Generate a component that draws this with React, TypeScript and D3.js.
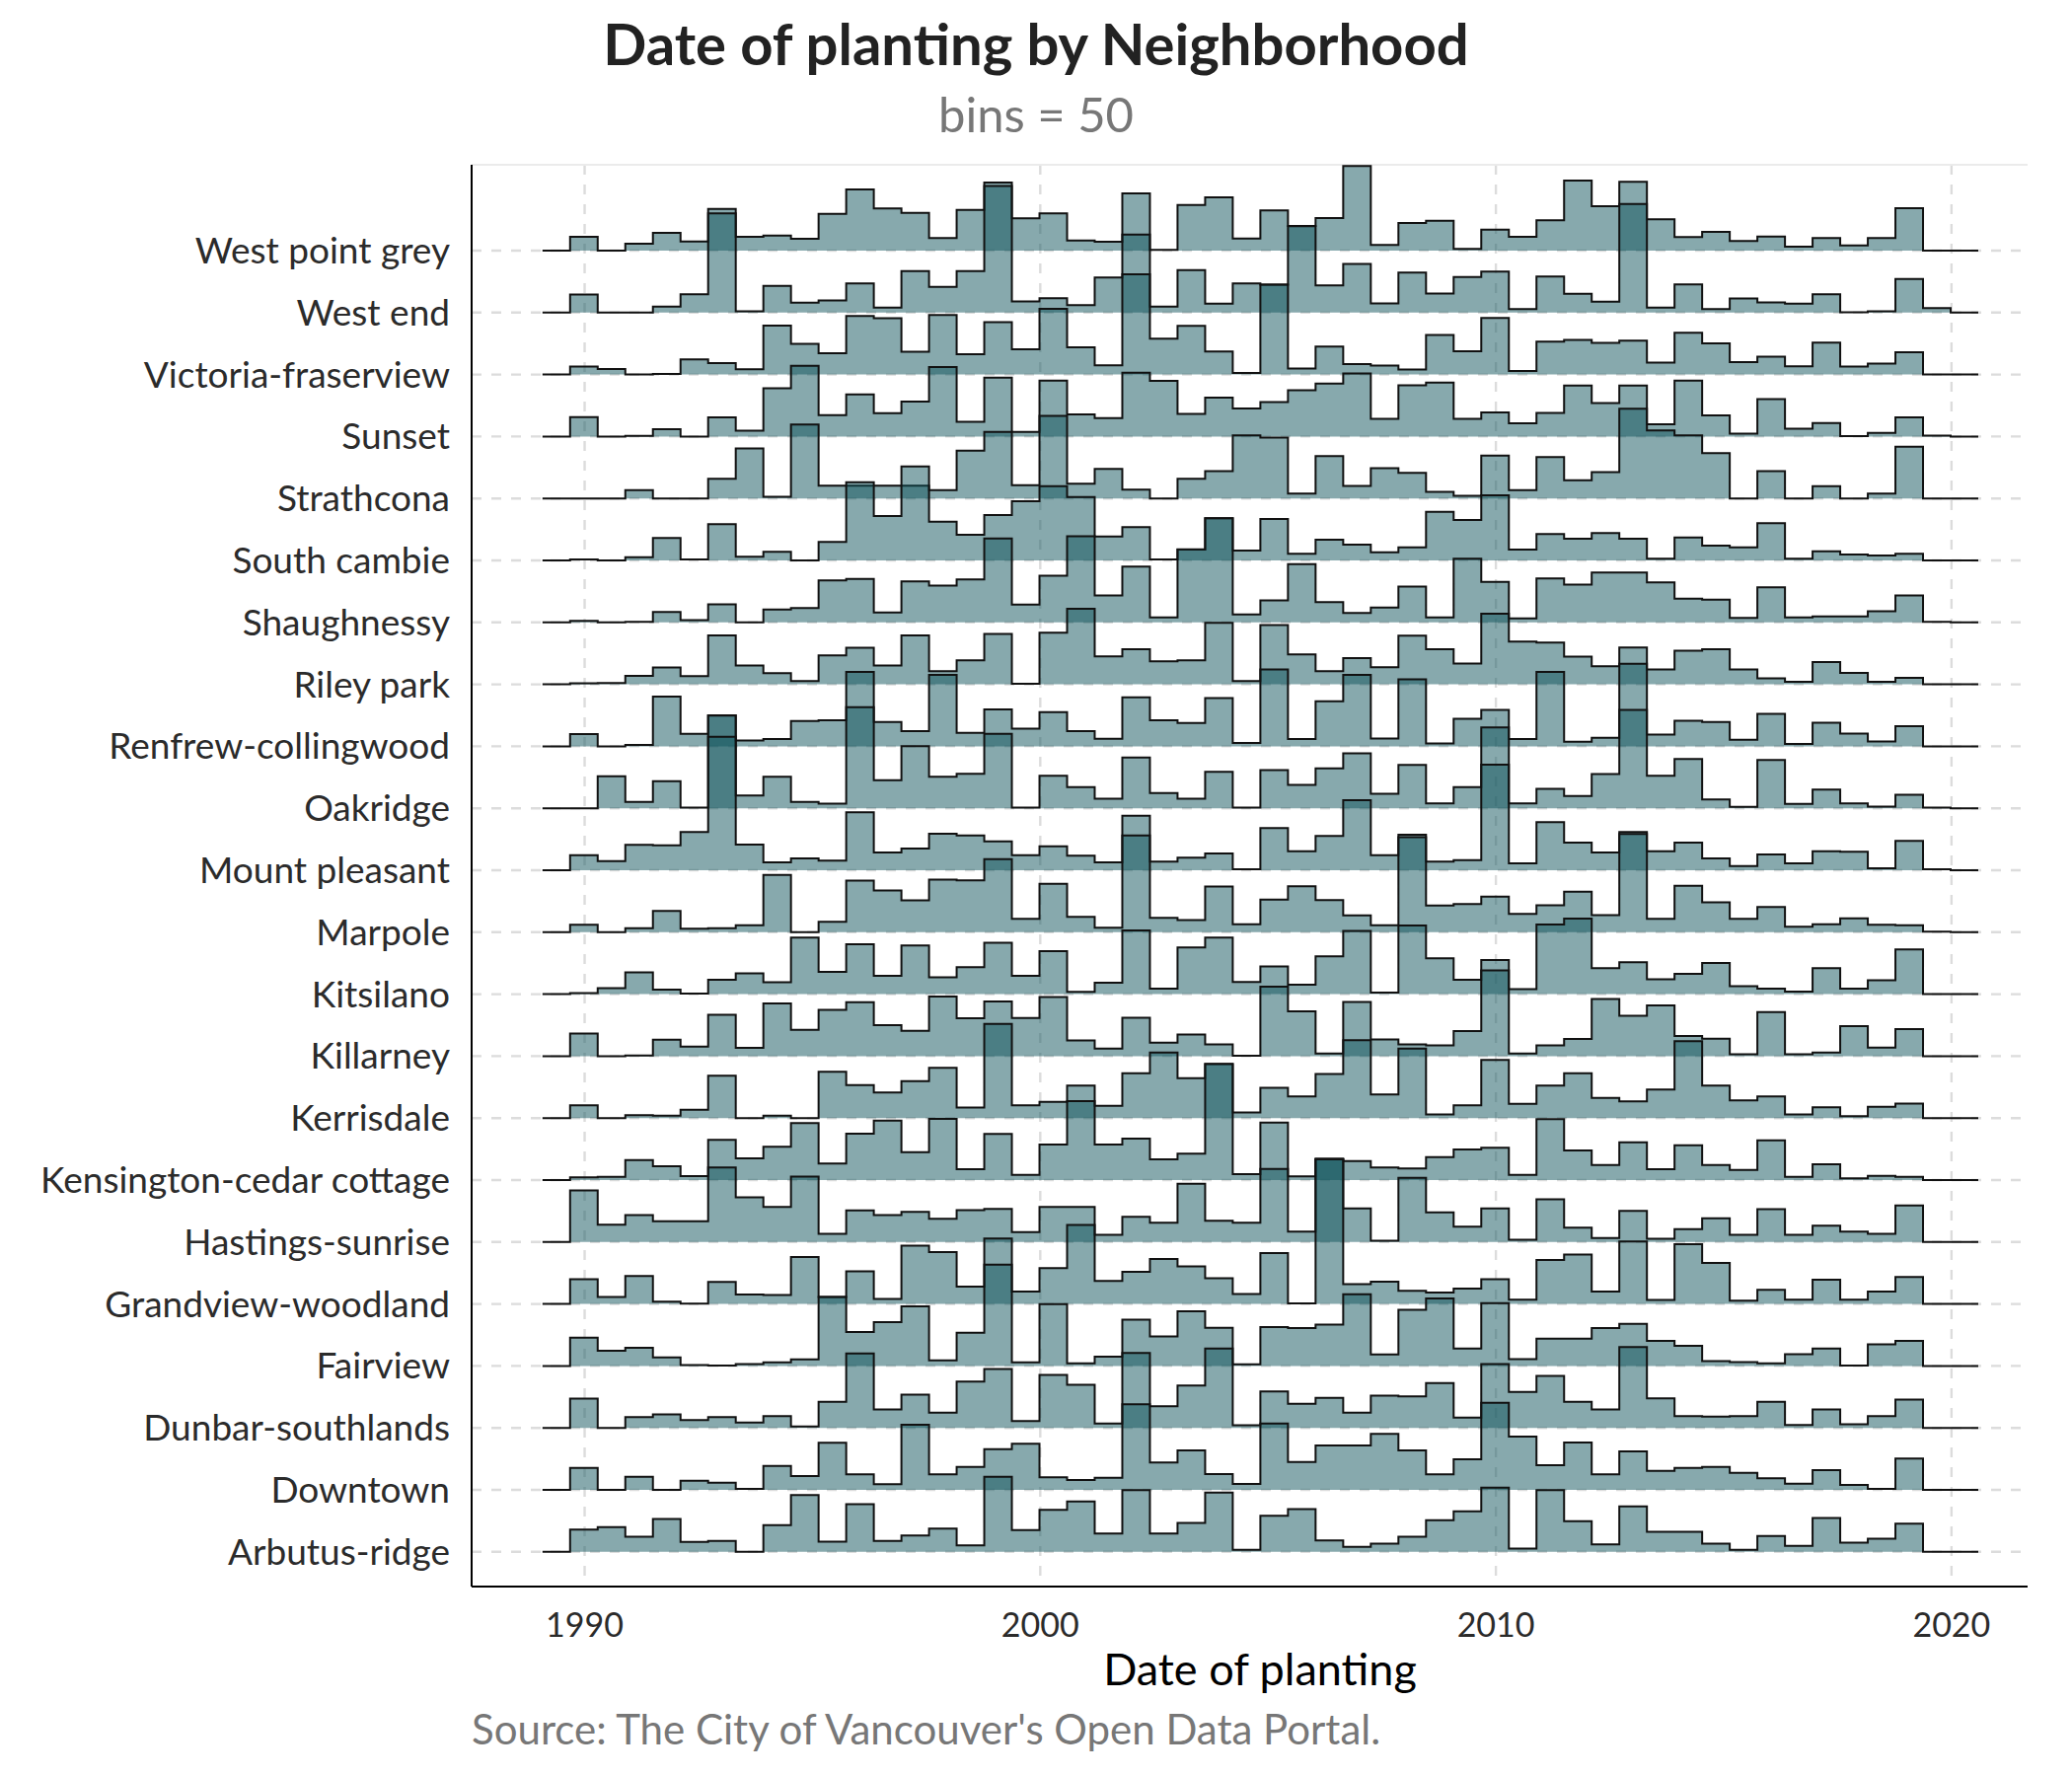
import React, { useEffect, useRef } from 'react';
import * as d3 from 'd3';

// neighbourhoods, top row first
const neighborhoods = [
  'West point grey', 'West end', 'Victoria-fraserview', 'Sunset', 'Strathcona',
  'South cambie', 'Shaughnessy', 'Riley park', 'Renfrew-collingwood', 'Oakridge',
  'Mount pleasant', 'Marpole', 'Kitsilano', 'Killarney', 'Kerrisdale',
  'Kensington-cedar cottage', 'Hastings-sunrise', 'Grandview-woodland', 'Fairview',
  'Dunbar-southlands', 'Downtown', 'Arbutus-ridge',
];

// 50 bins (plus one empty pad bin on each side, as ggridges draws them)
const binStart = 1989.075;
const binWidth = 0.606;
const xTicks = [1990, 2000, 2010, 2020];

// counts per bin
const westPointGrey = [42, 0, 21, 54, 28, 127, 42, 46, 36, 112, 186, 128, 115, 38, 124, 207, 98, 113, 31, 27, 174, 2, 139, 162, 37, 122, 75, 99, 257, 17, 84, 91, 5, 64, 42, 92, 213, 135, 209, 95, 41, 57, 29, 43, 12, 38, 16, 38, 129, 0];
const westEnd = [55, 0, 0, 18, 56, 302, 4, 81, 30, 37, 89, 15, 126, 78, 126, 385, 34, 44, 23, 107, 237, 18, 129, 27, 89, 85, 263, 83, 148, 28, 122, 58, 108, 125, 11, 110, 57, 33, 330, 15, 86, 11, 43, 31, 27, 56, 1, 4, 102, 14];
const victoriaFraserview = [24, 17, 0, 2, 46, 35, 16, 149, 93, 65, 178, 171, 69, 181, 62, 159, 77, 200, 83, 28, 305, 109, 148, 70, 5, 273, 18, 85, 32, 27, 15, 120, 71, 172, 11, 100, 105, 96, 103, 36, 127, 95, 38, 54, 25, 97, 24, 33, 68, 0];
const sunset = [59, 0, 2, 22, 0, 58, 18, 147, 215, 65, 128, 71, 106, 211, 45, 179, 14, 170, 67, 56, 194, 169, 69, 118, 85, 105, 141, 161, 192, 54, 156, 164, 54, 73, 40, 72, 155, 102, 155, 37, 170, 64, 9, 114, 24, 41, 1, 11, 58, 3];
const strathcona = [0, 0, 25, 0, 0, 60, 152, 5, 225, 39, 39, 39, 39, 25, 145, 202, 40, 251, 45, 90, 27, 0, 60, 83, 192, 185, 15, 129, 38, 92, 78, 20, 8, 130, 25, 126, 55, 80, 273, 207, 192, 138, 0, 83, 0, 37, 0, 15, 157, 0];
const southCambie = [3, 0, 10, 68, 3, 110, 11, 26, 0, 56, 238, 135, 286, 118, 78, 138, 180, 226, 193, 73, 101, 3, 33, 128, 30, 126, 20, 63, 48, 25, 40, 148, 123, 198, 33, 80, 66, 83, 66, 5, 70, 45, 40, 113, 5, 28, 18, 15, 20, 0];
const shaughnessy = [5, 0, 2, 32, 7, 55, 0, 39, 44, 128, 132, 30, 125, 112, 131, 255, 54, 142, 262, 82, 170, 15, 222, 317, 24, 67, 177, 62, 29, 45, 109, 15, 194, 123, 12, 134, 115, 152, 152, 122, 72, 69, 14, 107, 15, 18, 18, 34, 82, 2];
const rileyPark = [3, 4, 26, 51, 25, 149, 57, 34, 10, 88, 111, 57, 149, 40, 73, 153, 2, 157, 230, 85, 107, 70, 73, 187, 10, 180, 91, 40, 80, 52, 148, 107, 63, 215, 130, 127, 84, 55, 112, 45, 102, 107, 45, 18, 8, 68, 35, 8, 20, 0];
const renfrew = [37, 0, 4, 151, 38, 94, 18, 22, 77, 79, 226, 74, 46, 217, 41, 112, 54, 104, 46, 23, 149, 79, 71, 147, 10, 234, 22, 137, 217, 24, 204, 9, 84, 111, 22, 226, 14, 26, 251, 36, 78, 74, 20, 99, 7, 72, 39, 15, 61, 0];
const oakridge = [0, 97, 19, 82, 2, 282, 39, 96, 19, 14, 307, 85, 189, 96, 105, 226, 2, 99, 64, 29, 154, 46, 29, 111, 2, 116, 71, 121, 167, 44, 132, 15, 64, 246, 15, 59, 37, 104, 299, 99, 150, 27, 4, 147, 13, 57, 15, 5, 41, 2];
const mountPleasant = [46, 28, 77, 76, 116, 406, 78, 24, 36, 29, 176, 54, 66, 111, 106, 88, 46, 73, 44, 24, 166, 26, 38, 51, 3, 128, 58, 104, 213, 46, 108, 26, 31, 321, 21, 146, 84, 54, 116, 58, 84, 36, 13, 48, 21, 58, 56, 6, 89, 3];
const marpole = [23, 0, 12, 65, 11, 12, 21, 174, 0, 32, 157, 127, 97, 160, 158, 222, 41, 147, 47, 14, 294, 44, 37, 139, 24, 99, 140, 98, 51, 21, 289, 81, 86, 108, 56, 82, 123, 52, 299, 41, 141, 91, 41, 77, 17, 24, 42, 23, 21, 2];
const kitsilano = [3, 18, 66, 14, 2, 44, 63, 36, 172, 68, 152, 56, 148, 51, 82, 156, 56, 131, 7, 35, 194, 17, 142, 172, 37, 84, 29, 115, 192, 5, 209, 109, 44, 104, 15, 212, 230, 79, 97, 45, 62, 95, 24, 17, 8, 79, 17, 42, 136, 0];
const killarney = [69, 0, 2, 50, 29, 126, 25, 160, 80, 141, 164, 94, 77, 181, 115, 166, 116, 180, 48, 23, 117, 41, 66, 36, 1, 211, 136, 8, 165, 51, 36, 33, 76, 261, 8, 33, 52, 174, 123, 154, 61, 53, 6, 134, 6, 11, 91, 26, 82, 0];
const kerrisdale = [39, 0, 9, 7, 25, 129, 0, 7, 0, 141, 100, 78, 112, 153, 32, 286, 39, 49, 99, 37, 136, 199, 121, 164, 17, 92, 66, 134, 237, 72, 211, 11, 39, 177, 43, 99, 136, 61, 51, 87, 234, 99, 54, 66, 11, 33, 6, 34, 44, 0];
const kensington = [8, 10, 61, 42, 12, 122, 66, 101, 173, 50, 141, 181, 85, 186, 33, 140, 16, 108, 240, 108, 126, 63, 80, 353, 18, 175, 11, 63, 58, 38, 35, 70, 93, 98, 16, 185, 90, 46, 115, 33, 106, 46, 31, 121, 10, 48, 5, 13, 10, 0];
const hastingsSunrise = [157, 53, 82, 63, 63, 227, 136, 107, 199, 25, 96, 82, 92, 71, 97, 101, 30, 107, 107, 22, 77, 59, 177, 65, 59, 222, 32, 254, 102, 4, 195, 90, 47, 102, 7, 130, 44, 12, 95, 10, 39, 72, 22, 100, 22, 50, 32, 25, 111, 0];
const grandview = [75, 21, 85, 7, 1, 67, 29, 27, 143, 21, 99, 15, 177, 158, 53, 199, 38, 109, 240, 70, 98, 137, 114, 78, 30, 155, 2, 440, 60, 68, 40, 35, 47, 75, 13, 134, 150, 38, 190, 12, 182, 125, 10, 43, 13, 74, 13, 38, 82, 0];
const fairview = [86, 46, 55, 26, 3, 1, 6, 11, 20, 210, 103, 133, 181, 17, 101, 308, 11, 188, 8, 28, 141, 90, 166, 116, 5, 118, 115, 126, 218, 35, 171, 205, 53, 191, 21, 83, 83, 115, 128, 76, 61, 15, 12, 8, 36, 53, 1, 66, 76, 0];
const dunbar = [89, 0, 33, 41, 24, 33, 16, 36, 4, 79, 226, 56, 101, 46, 141, 179, 21, 161, 131, 13, 228, 66, 129, 241, 8, 111, 73, 91, 46, 98, 96, 136, 31, 194, 109, 158, 79, 56, 246, 90, 36, 34, 36, 79, 9, 56, 11, 36, 86, 0];
const downtown = [67, 0, 40, 0, 28, 22, 3, 73, 42, 143, 47, 17, 198, 47, 70, 124, 140, 38, 30, 37, 260, 83, 120, 48, 18, 202, 85, 135, 135, 170, 120, 47, 93, 265, 162, 75, 144, 47, 117, 58, 67, 70, 52, 35, 19, 60, 15, 3, 95, 0];
const arbutusRidge = [68, 75, 46, 100, 30, 33, 0, 81, 173, 31, 145, 33, 50, 71, 20, 228, 66, 128, 153, 56, 188, 56, 88, 180, 6, 110, 130, 35, 15, 25, 46, 96, 123, 195, 10, 188, 93, 23, 138, 61, 61, 25, 6, 48, 18, 103, 28, 40, 86, 0];

const counts = [
  westPointGrey, westEnd, victoriaFraserview, sunset, strathcona, southCambie,
  shaughnessy, rileyPark, renfrew, oakridge, mountPleasant, marpole, kitsilano,
  killarney, kerrisdale, kensington, hastingsSunrise, grandview, fairview, dunbar,
  downtown, arbutusRidge,
];

const FONT = 'Lato, "Open Sans", sans-serif';

export default function App() {
  const ref = useRef<SVGSVGElement>(null);

  useEffect(() => {
    document.body.style.margin = '0';
    const svg = d3.select(ref.current);
    svg.selectAll('*').remove();

    const left = 478, right = 2055, top = 167, bottom = 1608;

    const x = d3.scaleLinear().domain([1987.52, 2021.67]).range([left, right]);
    const y = d3.scalePoint<string>().domain(neighborhoods).range([254, 1572.8]);
    const h = d3.scaleLinear().domain([0, 300]).range([0, 100]);

    svg.append('rect').attr('width', 2100).attr('height', 1800).attr('fill', 'white');

    // grid
    const grid = svg.append('g').attr('stroke', '#dcdcdc').attr('stroke-width', 2.4)
      .attr('stroke-dasharray', '10,10');
    grid.selectAll('line.v').data(xTicks).enter().append('line')
      .attr('x1', d => x(d)).attr('x2', d => x(d))
      .attr('y1', top).attr('y2', bottom);
    grid.selectAll('line.h').data(neighborhoods).enter().append('line')
      .attr('x1', left).attr('x2', right)
      .attr('y1', d => y(d)!).attr('y2', d => y(d)!);
    svg.append('line').attr('x1', left).attr('x2', right).attr('y1', top).attr('y2', top)
      .attr('stroke', '#ebebeb').attr('stroke-width', 2);

    // ridges, top row first so lower rows sit on top
    neighborhoods.forEach((name, i) => {
      const vals = [0, ...counts[i], 0, 0];
      const pts = vals.map((v, k) => ({ yr: binStart + k * binWidth, v }));
      const base = y(name)!;
      const area = d3.area<{ yr: number; v: number }>()
        .curve(d3.curveStepAfter)
        .x(d => x(d.yr))
        .y0(base)
        .y1(d => base - h(d.v));
      const line = d3.line<{ yr: number; v: number }>()
        .curve(d3.curveStepAfter)
        .x(d => x(d.yr))
        .y(d => base - h(d.v));
      svg.append('path').attr('d', area(pts)!)
        .attr('fill', 'rgb(16,84,92)').attr('fill-opacity', 0.5);
      svg.append('path').attr('d', line(pts)!)
        .attr('fill', 'none').attr('stroke', '#111').attr('stroke-width', 2);
    });

    // axes
    svg.append('line').attr('x1', left).attr('x2', left).attr('y1', top).attr('y2', bottom)
      .attr('stroke', 'black').attr('stroke-width', 2);
    svg.append('line').attr('x1', left).attr('x2', right).attr('y1', bottom).attr('y2', bottom)
      .attr('stroke', 'black').attr('stroke-width', 2);

    svg.append('g').selectAll('text').data(neighborhoods).enter().append('text')
      .attr('x', 456).attr('y', d => y(d)!)
      .attr('dy', '0.35em')
      .attr('text-anchor', 'end')
      .attr('font-family', FONT).attr('font-size', 37).attr('fill', '#2b2b2b')
      .text(d => d);

    svg.append('g').selectAll('text').data(xTicks).enter().append('text')
      .attr('x', d => x(d)).attr('y', 1659)
      .attr('text-anchor', 'middle')
      .attr('font-family', FONT).attr('font-size', 34).attr('fill', '#2b2b2b')
      .text(d => d);

    svg.append('text').attr('x', 1277).attr('y', 1708).attr('text-anchor', 'middle')
      .attr('font-family', FONT).attr('font-size', 45).attr('fill', 'black')
      .text('Date of planting');

    svg.append('text').attr('x', 478).attr('y', 1768)
      .attr('font-family', FONT).attr('font-size', 42).attr('fill', '#777')
      .text("Source: The City of Vancouver's Open Data Portal.");

    svg.append('text').attr('x', 1050).attr('y', 66).attr('text-anchor', 'middle')
      .attr('font-family', FONT).attr('font-size', 58).attr('font-weight', 'bold').attr('fill', '#222')
      .text('Date of planting by Neighborhood');

    svg.append('text').attr('x', 1050).attr('y', 134).attr('text-anchor', 'middle')
      .attr('font-family', FONT).attr('font-size', 49).attr('fill', '#777')
      .text('bins = 50');
  }, []);

  return <svg ref={ref} width={2100} height={1800} style={{ display: 'block' }} />;
}
